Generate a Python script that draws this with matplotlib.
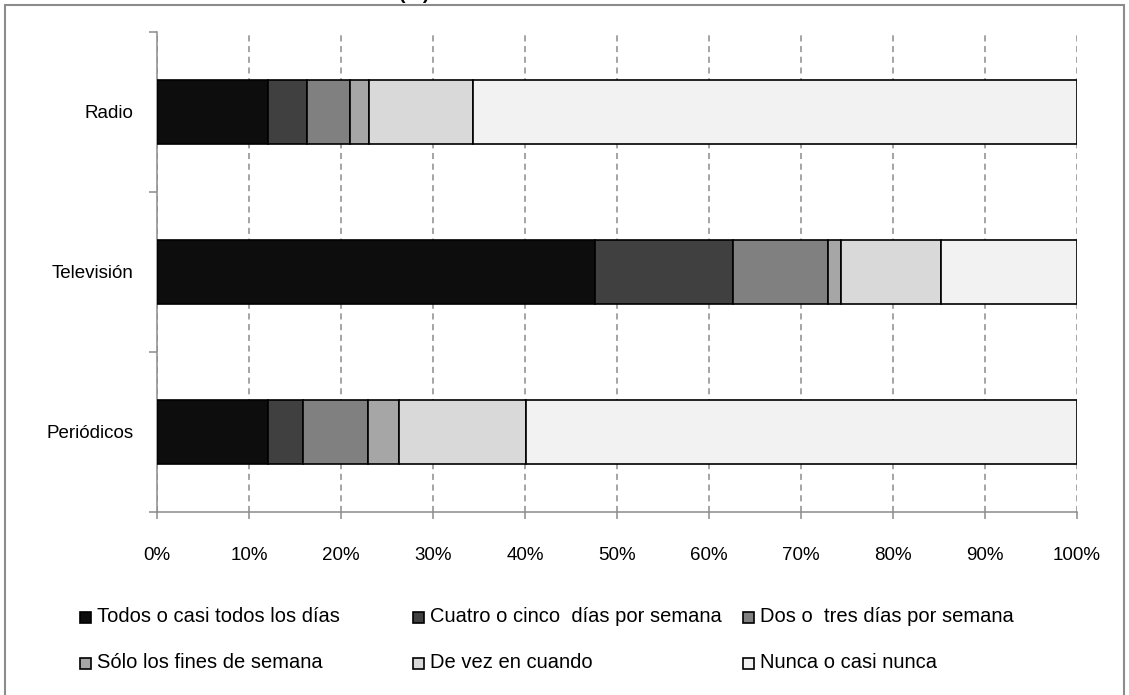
import matplotlib
matplotlib.use("Agg")
import matplotlib.pyplot as plt
from matplotlib.patches import Rectangle
from matplotlib.ticker import FuncFormatter, MultipleLocator

plt.rcParams['font.family'] = ['Liberation Sans', 'DejaVu Sans']

# Media usage frequency (% of respondents), bottom-to-top order on the chart
medios = ['Periódicos', 'Televisión', 'Radio']
frecuencias = ['Todos o casi todos los días', 'Cuatro o cinco  días por semana',
               'Dos o  tres días por semana', 'Sólo los fines de semana',
               'De vez en cuando', 'Nunca o casi nunca']
todos_dias = [12.1, 47.6, 12.1]
cuatro_cinco = [3.8, 15.0, 4.2]
dos_tres = [7.0, 10.3, 4.7]
fines_semana = [3.4, 1.4, 2.0]
de_vez = [13.8, 10.9, 11.3]
nunca = [59.9, 14.8, 65.7]
series = [todos_dias, cuatro_cinco, dos_tres, fines_semana, de_vez, nunca]
colores = ['#0d0d0d', '#404040', '#808080', '#a6a6a6', '#d9d9d9', '#f2f2f2']

W, H = 1129, 695
fig = plt.figure(figsize=(W / 100, H / 100), dpi=100)

# outer chart frame
fig.patches.append(Rectangle((5 / W, -0.05), 1119 / W, 1.05 - 5 / H,
                             transform=fig.transFigure, fill=False,
                             edgecolor='#8c8c8c', linewidth=1.5, clip_on=False))
fig.text(414 / W, 1 + 1 / H, '(%)', ha='center', va='baseline',
         fontsize=14, fontweight='bold')

ax = fig.add_axes([157 / W, 1 - 512 / H, 920 / W, 480 / H])
ax.set_xlim(0, 100)
ax.set_ylim(-0.5, 2.5)

izq = [0.0] * len(medios)
for valores, color in zip(series, colores):
    ax.barh(range(len(medios)), valores, left=izq, height=0.4, color=color,
            edgecolor='black', linewidth=1.2, zorder=3)
    izq = [a + b for a, b in zip(izq, valores)]

ax.xaxis.set_major_locator(MultipleLocator(10))
ax.xaxis.set_major_formatter(FuncFormatter(lambda v, _: f'{v:.0f}%'))
ax.grid(axis='x', linestyle=(0, (4, 3)), color='#8c8c8c', linewidth=1.1, zorder=1)

ax.set_yticks(range(len(medios)))
ax.set_yticklabels(medios)
ax.set_yticks([-0.5, 0.5, 1.5, 2.5], minor=True)
ax.tick_params(axis='y', which='major', length=0, pad=17, labelsize=13.5)
ax.tick_params(axis='y', which='minor', length=6, color='#8c8c8c', width=1.1)
ax.tick_params(axis='x', length=5, color='#8c8c8c', width=1.1, pad=20, labelsize=13.5)

for s in ['top', 'right']:
    ax.spines[s].set_visible(False)
for s in ['left', 'bottom']:
    ax.spines[s].set_color('#8c8c8c')
    ax.spines[s].set_linewidth(1.1)

# legend laid out in a fixed 3-column grid
col_x = [80, 413, 743]
row_y = [617, 663]
for i, (etq, color) in enumerate(zip(frecuencias, colores)):
    cx = col_x[i % 3]
    cy = row_y[i // 3]
    fig.patches.append(Rectangle((cx / W, 1 - (cy + 6) / H), 11 / W, 11 / H,
                                 transform=fig.transFigure, facecolor=color,
                                 edgecolor='black', linewidth=1.2))
    fig.text((cx + 17) / W, 1 - cy / H, etq, ha='left', va='center', fontsize=14.5)

fig.savefig('out.png', dpi=100)
